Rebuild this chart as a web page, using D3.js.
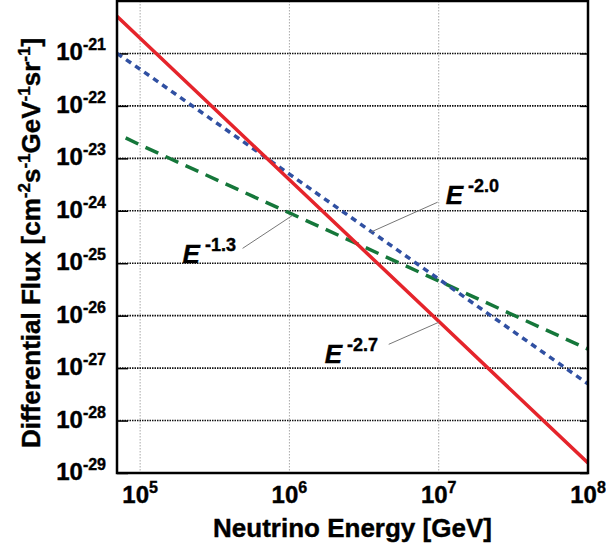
<!DOCTYPE html>
<html>
<head>
<meta charset="utf-8">
<script src="https://cdn.jsdelivr.net/npm/d3@7"></script>
<style>
  body { margin: 0; background: #fff; }
  text { font-family: "Liberation Sans", Arial, Helvetica, sans-serif; font-weight: bold; }
</style>
</head>
<body>
<svg id="chart" width="606" height="549"></svg>
<script>
// values (GeV, cm^-2 s^-1 GeV^-1 sr^-1)
const energies = [7e4, 1e5, 1e6, 1e7, 1e8];
const fluxSoft = [5.1e-21, 1.95e-21, 3.9e-24, 7.8e-27, 1.55e-29];   // E^-2.7
const fluxMid = [1.0e-21, 5e-22, 5e-24, 5e-26, 5e-28];              // E^-2.0
const greenEnergies = [8e4, 1e5, 1e6, 1e7, 1e8];
const fluxHard = [2.45e-23, 1.8e-23, 9.1e-25, 4.6e-26, 2.3e-27];    // E^-1.3
const xTickExps = [5, 6, 7, 8];
const yTickExps = [-21, -22, -23, -24, -25, -26, -27, -28, -29];

const svg = d3.select("#chart");
const pLeft = 117, pRight = 588, pTop = 1, pBottom = 473;

const x = d3.scaleLog().domain([7e4, 1e8]).range([pLeft, pRight]);
const y = d3.scaleLog().domain([1e-29, 1e-20]).range([pBottom, pTop]);

// grid
svg.append("g").selectAll("line")
   .data(xTickExps.slice(0, 3))
   .enter().append("line")
   .attr("x1", d => x(Math.pow(10, d))).attr("x2", d => x(Math.pow(10, d)))
   .attr("y1", pTop).attr("y2", pBottom)
   .attr("stroke", "#aaa").attr("stroke-width", 1)
   .attr("stroke-dasharray", "1.5,1.5");

svg.append("g").selectAll("line")
   .data(yTickExps.slice(0, 8))
   .enter().append("line")
   .attr("x1", pLeft).attr("x2", pRight)
   .attr("y1", d => y(Math.pow(10, d))).attr("y2", d => y(Math.pow(10, d)))
   .attr("stroke", "#111").attr("stroke-width", 1.6)
   .attr("stroke-dasharray", "1.5,1");

// inward ticks on left and right
const yAx = d3.axisLeft(y).tickValues(yTickExps.map(e => Math.pow(10, e)))
              .tickSize(-11).tickFormat("");
svg.append("g").attr("transform", "translate(" + pLeft + ",0)").call(yAx)
   .call(g => g.select(".domain").remove())
   .selectAll("line").attr("stroke-width", 1.5);
const yAxR = d3.axisRight(y).tickValues(yTickExps.map(e => Math.pow(10, e)))
              .tickSize(-8).tickFormat("");
svg.append("g").attr("transform", "translate(" + pRight + ",0)").call(yAxR)
   .call(g => g.select(".domain").remove())
   .selectAll("line").attr("stroke-width", 1.5);

// curves
svg.append("clipPath").attr("id", "clip")
   .append("rect").attr("x", pLeft).attr("y", pTop)
   .attr("width", pRight - pLeft).attr("height", pBottom - pTop);

const line = d3.line().x(d => x(d[0])).y(d => y(d[1]));
const plot = svg.append("g").attr("clip-path", "url(#clip)");

plot.append("path")
    .datum(d3.zip(greenEnergies, fluxHard))
    .attr("d", line).attr("fill", "none")
    .attr("stroke", "#15773a").attr("stroke-width", 3.5)
    .attr("stroke-dasharray", "14,8");
plot.append("path")
    .datum(d3.zip(energies, fluxMid))
    .attr("d", line).attr("fill", "none")
    .attr("stroke", "#3050a2").attr("stroke-width", 3.5)
    .attr("stroke-dasharray", "6,5");
plot.append("path")
    .datum(d3.zip(energies, fluxSoft))
    .attr("d", line).attr("fill", "none")
    .attr("stroke", "#e5242b").attr("stroke-width", 3.5);

// frame
svg.append("rect").attr("x", pLeft).attr("y", pTop)
   .attr("width", pRight - pLeft).attr("height", pBottom - pTop)
   .attr("fill", "none").attr("stroke", "#000").attr("stroke-width", 2.5);

// tick labels
svg.append("g").selectAll("text")
   .data(yTickExps)
   .enter().append("text")
   .attr("x", 106).attr("y", d => y(Math.pow(10, d)) + 7)
   .attr("text-anchor", "end")
   .attr("stroke", "#000").attr("stroke-width", 0.4)
   .each(function(d) {
       const t = d3.select(this);
       t.append("tspan").attr("font-size", 24).text("10");
       t.append("tspan").attr("font-size", 16).attr("dy", -10).text(d);
   });

svg.append("g").selectAll("text")
   .data(xTickExps)
   .enter().append("text")
   .attr("x", d => x(Math.pow(10, d))).attr("y", 503)
   .attr("text-anchor", "middle")
   .attr("stroke", "#000").attr("stroke-width", 0.4)
   .each(function(d) {
       const t = d3.select(this);
       t.append("tspan").attr("font-size", 24).text("10");
       t.append("tspan").attr("font-size", 16).attr("dy", -10).text(d);
   });

// axis titles
svg.append("text")
   .attr("x", (pLeft + pRight) / 2).attr("y", 537)
   .attr("text-anchor", "middle").attr("font-size", 26)
   .attr("stroke", "#000").attr("stroke-width", 0.4)
   .text("Neutrino Energy [GeV]");

const yt = svg.append("text")
   .attr("transform", "translate(40," + ((pTop + pBottom) / 2 + 6) + ") rotate(-90)")
   .attr("text-anchor", "middle").attr("font-size", 26)
   .attr("stroke", "#000").attr("stroke-width", 0.4);
[["Differential Flux [cm", null], ["-2", "sup"], ["s", null], ["-1", "sup"],
 ["GeV", null], ["-1", "sup"], ["sr", null], ["-1", "sup"], ["]", null]]
  .forEach(([s, k], i) => {
      const ts = yt.append("tspan").text(s);
      if (k) ts.attr("font-size", 17).attr("dy", -10);
      else if (i > 0) ts.attr("dy", 10);
  });

// annotations: anchor on the curve, then pixel offsets for leader and label
const annotations = [
    { label: "-2.0", e: 3.5e6, series: [energies, fluxMid], lead: [67, -29], text: [75, -27] },
    { label: "-1.3", e: 1.05e6, series: [greenEnergies, fluxHard], lead: [-50, 34], text: [-110, 49] },
    { label: "-2.7", e: 1e7, series: [energies, fluxSoft], lead: [-50, 23], text: [-114, 42] }
];

const interpLog = (es, fs, e) => {
    const lx = es.map(Math.log10), ly = fs.map(Math.log10);
    const s = d3.scaleLinear().domain(lx).range(ly);
    return Math.pow(10, s(Math.log10(e)));
};

annotations.forEach(a => {
    const px = x(a.e), py = y(interpLog(a.series[0], a.series[1], a.e));
    svg.append("line")
       .attr("x1", px).attr("y1", py + 1)
       .attr("x2", px + a.lead[0]).attr("y2", py + a.lead[1])
       .attr("stroke", "#777").attr("stroke-width", 1);
    const t = svg.append("text")
       .attr("x", px + a.text[0]).attr("y", py + a.text[1])
       .attr("stroke", "#000").attr("stroke-width", 0.4);
    t.append("tspan").attr("font-size", 26).attr("font-style", "italic").text("E");
    t.append("tspan").attr("font-size", 18).attr("dx", 5).attr("dy", -12).text(a.label);
});
</script>
</body>
</html>
